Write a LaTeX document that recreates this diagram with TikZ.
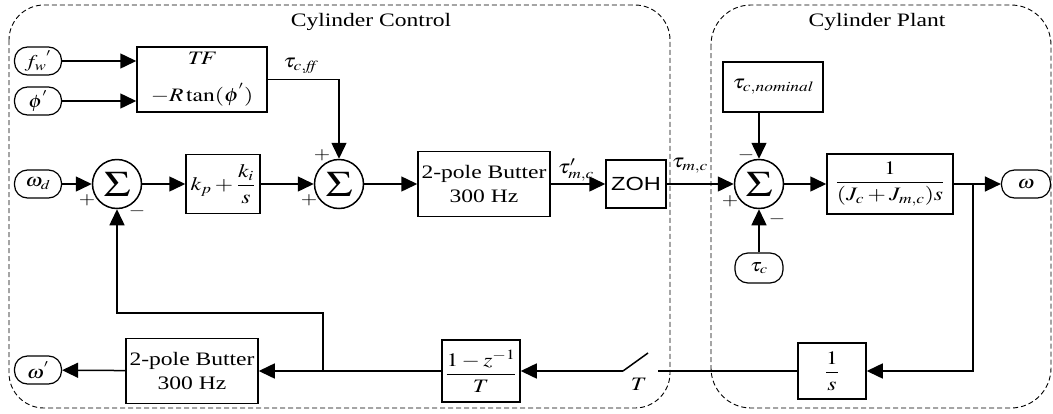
\documentclass[tikz,border=0pt]{standalone}
\usepackage{graphicx}
\usepackage{amsmath}
\usepackage{mathptmx}
\usepackage{fontspec}
\setmainfont{Liberation Serif}
\newfontfamily\arialfont{Liberation Sans}
\usetikzlibrary{arrows.meta}
\newcommand\sx[1]{\scalebox{1.24}[1]{#1}}
\newcommand\bigsig{\fontsize{36}{36}\selectfont\sx{$\Sigma$}}
\tikzset{
  wire/.style={line width=1.5pt},
  arr/.style={line width=1.5pt,-{Triangle[length=16pt,width=15pt]}},
  blk/.style={draw,line width=1.5pt,inner sep=0pt,align=center,font=\fontsize{19}{23}\selectfont},
  term/.style={draw,line width=1.2pt,rounded corners=13pt,inner sep=0pt,minimum width=47pt,minimum height=28pt,font=\fontsize{18}{22}\selectfont},
  sumc/.style={draw,circle,line width=1.5pt,minimum size=49pt,inner sep=0pt},
  sgn/.style={font=\fontsize{17}{17}\selectfont,inner sep=0pt},
  lbl/.style={font=\fontsize{19}{23}\selectfont,inner sep=0pt},
  region/.style={dashed,line width=0.9pt,dash pattern=on 5pt off 3pt}
}
\begin{document}
\begin{tikzpicture}[x=1pt,y=-1pt]
\useasboundingbox (0,0) rectangle (1053,413);
% regions
\draw[region,rounded corners=35pt] (9,5) rectangle (670,408);
\draw[region,rounded corners=40pt] (711,5) rectangle (1051,408);
\node[lbl] (tctl) at (371,22) {\sx{Cylinder Control}};
\node[lbl] (tpl) at (877,22) {\sx{Cylinder Plant}};
% terminals
\node[term] (fw) at (38,61) {\sx{$f_w{}^{'}$}};
\node[term] (phi) at (38,101) {\sx{$\phi^{'}$}};
\node[term] (wd) at (38,184) {\sx{$\omega_d$}};
\node[term] (wp) at (38,370) {\sx{$\omega^{'}$}};
\node[term,minimum width=49pt] (w) at (1026,184) {\sx{$\omega$}};
\node[term,minimum width=48pt,minimum height=30pt] (tc) at (759,268) {\sx{$\tau_c$}};
% blocks
\node[blk,minimum width=130pt,minimum height=65pt] (tf) at (202,79.5) {\sx{$\mathit{TF}$}\\[14pt]\sx{$-R\tan(\phi^{'})$}};
\node[blk,minimum width=74pt,minimum height=59pt] (pi) at (223,184) {\sx{$k_p+\dfrac{k_i}{s}$}};
\node[blk,minimum width=132pt,minimum height=65pt] (b1) at (484,184) {\sx{2-pole Butter}\\[1pt]\sx{300 Hz}};
\node[blk,minimum width=60pt,minimum height=48pt,font=\arialfont\fontsize{19}{23}\selectfont] (zoh) at (636,184) {\sx{ZOH}};
\node[blk,minimum width=126pt,minimum height=60pt] (pl) at (890,184) {\sx{$\dfrac{1}{(J_c+J_{m,c})s}$}};
\node[blk,minimum width=100pt,minimum height=50pt] (nom) at (773,87) {\sx{$\tau_{c,\mathit{nominal}}$}};
\node[blk,minimum width=68pt,minimum height=56pt] (ints) at (832,371) {\sx{$\dfrac{1}{s}$}};
\node[blk,minimum width=78pt,minimum height=62pt] (dz) at (481,371) {\sx{$\dfrac{1-z^{-1}}{T}$}};
\node[blk,minimum width=132pt,minimum height=65pt] (b2) at (192,371) {\sx{2-pole Butter}\\[1pt]\sx{300 Hz}};
% sums
\node[sumc] (s1) at (117,184) {\bigsig};
\node[sumc] (s2) at (339,184) {\bigsig};
\node[sumc] (s3) at (759,184) {\bigsig};
% signs
\node[sgn] (p1a) at (87,200) {\sx{$+$}};
\node[sgn] (m1a) at (137,211) {\sx{$-$}};
\node[sgn] (p2a) at (322,155) {\sx{$+$}};
\node[sgn] (p2b) at (309,200) {\sx{$+$}};
\node[sgn] (m3a) at (746,155) {\sx{$-$}};
\node[sgn] (p3a) at (730,201) {\sx{$+$}};
\node[sgn] (m3b) at (777,219) {\sx{$-$}};
% labels
\node[lbl] (ltff) at (301,66) {\sx{$\tau_{c,\mathit{ff}}$}};
\node[lbl] (ltmp) at (576,170) {\sx{$\tau'_{m,c}$}};
\node[lbl] (ltm) at (690,166) {\sx{$\tau_{m,c}$}};
\node[lbl] (lT) at (639,384) {\sx{$T$}};
% coordinates
\coordinate (br) at (973,184);
\coordinate (swR) at (658,371);
\coordinate (swL) at (623,371);
\coordinate (swT) at (648,353);
\coordinate (fb) at (323,371);
\coordinate (fbt) at (323,313);
% connectors
\draw[arr] (fw) -- (tf.west |- fw);
\draw[arr] (phi) -- (tf.west |- phi);
\draw[arr] (tf.east) -| (s2.north);
\draw[arr] (wd) -- (s1);
\draw[arr] (s1) -- (pi);
\draw[arr] (pi) -- (s2);
\draw[arr] (s2) -- (b1);
\draw[arr] (b1) -- (zoh);
\draw[arr] (zoh) -- (s3);
\draw[arr] (s3) -- (pl);
\draw[arr] (pl) -- (w);
\draw[arr] (nom.south -| s3) -- (s3.north);
\draw[arr] (tc) -- (s3);
\draw[arr] (br) |- (ints.east);
\draw[wire] (ints.west) -- (swR);
\draw[wire] (swL) -- (swT);
\draw[arr] (swL) -- (dz.east);
\draw[arr] (dz.west) -- (b2.east);
\draw[arr] (fb) -- (fbt) -| (s1.south);
\draw[arr] (b2) -- (wp);
\end{tikzpicture}
\end{document}
